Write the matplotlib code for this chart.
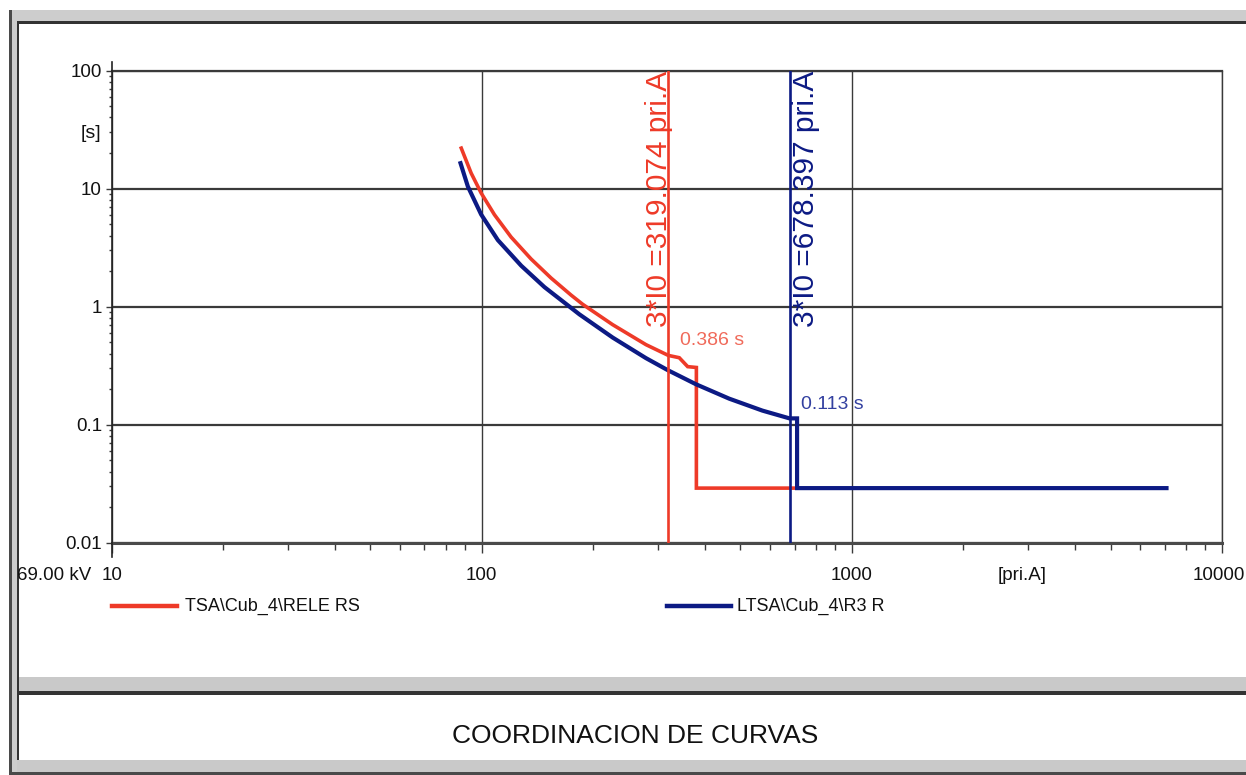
import matplotlib
matplotlib.use("Agg")
import matplotlib.pyplot as plt
import matplotlib.transforms as mtransforms
from matplotlib.patches import Rectangle
from matplotlib.lines import Line2D
from matplotlib.ticker import FixedLocator, FixedFormatter, LogLocator, NullFormatter

# ---- data -------------------------------------------------------------
# Relay "TSA\Cub_4\RELE RS": primary current [A] vs. trip time [s]
red_current = [88.0, 93.6, 99.6, 108.2, 120.0, 135.9, 153.9, 174.2, 187.3,
               225.7, 277.7, 319.074, 341.6, 360.0, 380.0, 380.0, 711.0]
red_time = [22.0, 13.5, 9.16, 6.0, 3.88, 2.53, 1.745, 1.253, 1.046,
            0.703, 0.476, 0.386, 0.369, 0.31, 0.305, 0.029, 0.029]

# Relay "LTSA\Cub_4\R3 R"
blue_current = [87.6, 91.7, 99.6, 110.5, 127.8, 147.7, 167.2, 183.5, 225.7,
                277.7, 317.7, 378.9, 466.1, 573.1, 678.397, 711.0, 711.0, 7080.0]
blue_time = [16.4, 10.4, 6.03, 3.66, 2.22, 1.462, 1.08, 0.86, 0.547,
             0.366, 0.290, 0.220, 0.166, 0.1315, 0.113, 0.113, 0.029, 0.029]

# fault current markers (3*I0) and the trip time read at each
red_fault = 319.074
red_fault_time = 0.386
blue_fault = 678.397
blue_fault_time = 0.113

red_name = "TSA\\Cub_4\\RELE RS"
blue_name = "LTSA\\Cub_4\\R3 R"

x_ticks = [10, 100, 1000, 10000]
x_tick_labels = ["10", "100", "1000", "10000"]
y_ticks = [0.01, 0.1, 1, 10, 100]
y_tick_labels = ["0.01", "0.1", "1", "10", "100"]

title = "COORDINACION DE CURVAS"

# ---- styling ----------------------------------------------------------
RED = "#ee3a28"
BLUE = "#0c1a84"
GRID = "#3a3a3a"
FONT = ["Liberation Sans", "DejaVu Sans"]

W, H = 1246, 775
fig = plt.figure(figsize=(W / 100, H / 100), dpi=100, facecolor="white")


def px_rect(x0, y0, x1, y1, color):
    fig.add_artist(Rectangle((x0 / W, 1 - y1 / H), (x1 - x0) / W, (y1 - y0) / H,
                             transform=fig.transFigure, facecolor=color,
                             edgecolor="none", zorder=0))


# window frame
px_rect(9, 10, 12, 775, "#4a4a4a")
px_rect(12, 10, W, 21, "#cdcdcd")
px_rect(12, 10, 17, 775, "#cdcdcd")
px_rect(17, 21, W, 24, "#333333")
px_rect(17, 21, 19, 692, "#333333")
px_rect(19, 677, W, 691, "#c9c9c9")
px_rect(17, 691, W, 695, "#333333")
px_rect(17, 695, 19, 760, "#333333")
px_rect(17, 760, W, 772, "#c9c9c9")
px_rect(9, 772, W, 775, "#4a4a4a")

# ---- axes -------------------------------------------------------------
left, right, top, bottom = 111.7, 1222.0, 70.5, 542.7
ax = fig.add_axes([left / W, 1 - bottom / H, (right - left) / W, (bottom - top) / H])
ax.set_xscale("log")
ax.set_yscale("log")
ax.set_xlim(10, 10000)
ax.set_ylim(0.01, 100)
ax.set_facecolor("white")

ax.xaxis.set_major_locator(FixedLocator(x_ticks))
ax.xaxis.set_major_formatter(FixedFormatter(x_tick_labels))
ax.yaxis.set_major_locator(FixedLocator(y_ticks))
ax.yaxis.set_major_formatter(FixedFormatter(y_tick_labels))
ax.xaxis.set_minor_locator(LogLocator(base=10, subs=range(2, 10)))
ax.yaxis.set_minor_locator(LogLocator(base=10, subs=range(2, 10)))
ax.xaxis.set_minor_formatter(NullFormatter())
ax.yaxis.set_minor_formatter(NullFormatter())

ax.tick_params(axis="x", which="major", direction="out", length=7, width=1.0,
               color=GRID, pad=10.5, labelsize=13.5)
ax.tick_params(axis="x", which="minor", direction="out", length=5, width=1.0, color=GRID)
ax.tick_params(axis="y", which="major", direction="out", length=4.5, width=1.0,
               color=GRID, pad=2.5, labelsize=13.5)
ax.tick_params(axis="y", which="minor", direction="out", length=2.5, width=1.0, color=GRID)
for lab in ax.get_xticklabels() + ax.get_yticklabels():
    lab.set_family(FONT)
    lab.set_color("#111111")

# keep the last current label inside the window
last = ax.xaxis.get_major_ticks()[-1].label1
last.set_transform(last.get_transform() +
                   mtransforms.ScaledTranslation(-0.03, 0, fig.dpi_scale_trans))

ax.grid(True, axis="y", which="major", color=GRID, lw=1.6)
ax.grid(True, axis="x", which="major", color=GRID, lw=1.0)
ax.set_axisbelow(True)

ax.spines["left"].set_visible(False)
ax.spines["top"].set_color(GRID)
ax.spines["top"].set_linewidth(1.6)
ax.spines["right"].set_color(GRID)
ax.spines["right"].set_linewidth(1.0)
ax.spines["bottom"].set_color("#4a4a4a")
ax.spines["bottom"].set_linewidth(2.2)
# time axis line, slightly longer than the plotting area
ax.axvline(10, ymin=-0.03, ymax=1.017, color="#222222", lw=1.2, clip_on=False, zorder=3)

# ---- curves -----------------------------------------------------------
ax.plot(red_current, red_time, color=RED, lw=2.6, solid_joinstyle="miter", zorder=4)
ax.plot(blue_current, blue_time, color=BLUE, lw=3.0, solid_joinstyle="miter", zorder=5)

ax.axvline(red_fault, color=RED, lw=1.9, zorder=6)
ax.axvline(blue_fault, color=BLUE, lw=1.9, zorder=7)

ax.annotate(f"3*I0 ={red_fault:.3f} pri.A", xy=(red_fault, 100), xycoords="data",
            xytext=(-7, 0), textcoords="offset points", rotation=90,
            ha="center", va="top", fontsize=21.5, color=RED, family=FONT, zorder=5)
ax.annotate(f"3*I0 ={blue_fault:.3f} pri.A", xy=(blue_fault, 100), xycoords="data",
            xytext=(11.5, 0), textcoords="offset points", rotation=90,
            ha="center", va="top", fontsize=21.5, color=BLUE, family=FONT, zorder=5)

ax.annotate(f"{red_fault_time:.3f} s", xy=(red_fault, red_fault_time),
            xytext=(8.6, 10.8), textcoords="offset points", ha="left", va="center",
            fontsize=14, color="#f06a5a", family=FONT)
ax.annotate(f"{blue_fault_time:.3f} s", xy=(blue_fault, blue_fault_time),
            xytext=(8, 10), textcoords="offset points", ha="left", va="center",
            fontsize=14, color="#3340a0", family=FONT)

# axis captions
fig.text(90.5 / W, 1 - 134 / H, "[s]", ha="center", va="center", fontsize=14,
         family=FONT, color="#111111")
fig.text(1022 / W, 1 - 575 / H, "[pri.A]", ha="center", va="center", fontsize=13.5,
         family=FONT, color="#111111")
fig.text(54 / W, 1 - 575 / H, "69.00 kV", ha="center", va="center", fontsize=13.5,
         family=FONT, color="#111111")

# ---- legend -----------------------------------------------------------
for x0, x1, xt, color, name in [(112, 177, 185, RED, red_name),
                                (667, 731, 737, BLUE, blue_name)]:
    fig.add_artist(Line2D([x0 / W, x1 / W], [1 - 606 / H, 1 - 606 / H],
                          transform=fig.transFigure, color=color, lw=3.2))
    fig.text(xt / W, 1 - 606 / H, name, ha="left", va="center", fontsize=13,
             family=FONT, color="#111111")

# ---- title panel --------------------------------------------------------
fig.text(635 / W, 1 - 736 / H, title, ha="center", va="center", fontsize=19,
         family=FONT, color="#111111")

fig.savefig("out.png", dpi=100, facecolor="white")
